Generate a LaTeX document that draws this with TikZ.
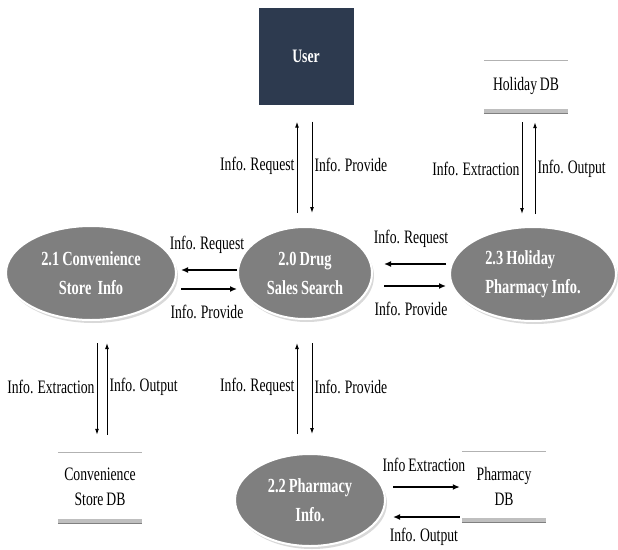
\documentclass[tikz,border=0pt]{standalone}
\usepackage{fontspec}
\setmainfont{Liberation Serif}[FakeStretch=0.72, WordSpace=0.85]
\usetikzlibrary{shapes.geometric,arrows.meta,shadows}
\definecolor{usernavy}{HTML}{2D3A4F}
\definecolor{procgray}{HTML}{7F7F7F}
\definecolor{bargray}{HTML}{BFBFBF}
\tikzstyle{process} = [ellipse, draw=white, line width=2pt, fill=procgray, text=white, font=\fontsize{20}{29}\selectfont\bfseries, align=center, inner sep=0pt, drop shadow={opacity=0.3, shadow xshift=2pt, shadow yshift=-3pt}]
\tikzstyle{entity} = [rectangle, fill=usernavy, text=white, font=\fontsize{19}{23}\selectfont\bfseries, minimum width=95pt, minimum height=97pt]
\tikzstyle{store} = [rectangle, minimum width=84pt, align=center, font=\fontsize{19}{25}\selectfont, inner sep=0pt]
\tikzstyle{storetop} = [draw=gray!60, line width=1.2pt]
\tikzstyle{storebar} = [draw=bargray, line width=5pt]
\tikzstyle{vflow} = [-{Latex[length=6pt,width=4pt]}, line width=1pt]
\tikzstyle{hflow} = [-{Latex[length=7pt,width=6pt]}, line width=1.8pt]
\tikzstyle{lbl} = [font=\fontsize{19}{21}\selectfont, inner sep=2pt]

\begin{document}
\begin{tikzpicture}[x=1pt, y=-1pt]
    \useasboundingbox (0,0) rectangle (618,549);

    % external entity and processes
    \node [entity] (user) at (306,56) {User};
    \node [process, minimum width=170pt, minimum height=94pt] (conv) at (91,273) {2.1 Convenience\\Store~ Info};
    \node [process, minimum width=134pt, minimum height=92pt] (drug) at (305,273) {2.0 Drug\\Sales Search};
    \node [process, minimum width=166pt, minimum height=94pt, align=left] (holi) at (533,274) {2.3 Holiday\\Pharmacy Info.};
    \node [process, minimum width=150pt, minimum height=92pt] (pharm) at (310,500) {2.2 Pharmacy\\Info.};

    % data stores
    \node [store, minimum height=50pt] (hdb) at (526,86) {Holiday DB};
    \node [store, minimum height=68pt] (cdb) at (100,487) {Convenience\\Store DB};
    \node [store, minimum height=68pt] (pdb) at (504,486) {Pharmacy\\DB};
    \foreach \s in {hdb,cdb,pdb} {
        \draw [storetop] (\s.north west) -- (\s.north east);
        \draw [storebar] (\s.south west) -- (\s.south east);
        \draw [draw=gray, line width=1pt] ([yshift=-2.5pt]\s.south west) -- ([yshift=-2.5pt]\s.south east);
    }

    % user <-> 2.0
    \draw [vflow, shorten <=13pt, shorten >=17pt] ([xshift=-8pt]drug.north) -- ([xshift=-8pt]drug.north |- user.south) node [lbl, midway, left] {Info. Request};
    \draw [vflow, shorten <=17pt, shorten >=13pt] ([xshift=7pt]drug.north |- user.south) -- ([xshift=7pt]drug.north) node [lbl, midway, right] {Info. Provide};

    % holiday db <-> 2.3
    \draw [vflow, shorten <=11pt, shorten >=12pt] ([xshift=-4pt]hdb.south) -- ([xshift=-4pt]hdb.south |- holi.north) node [lbl, midway, left] {Info. Extraction};
    \draw [vflow, shorten <=12pt, shorten >=11pt] ([xshift=9pt]hdb.south |- holi.north) -- ([xshift=9pt]hdb.south) node [lbl, midway, right] {Info. Output};

    % 2.0 <-> 2.1
    \draw [hflow, shorten >=4pt] ([yshift=3pt]drug.west) -- ([yshift=3pt]drug.west -| conv.east) node [lbl, midway, above=14pt] {Info. Request};
    \draw [hflow, shorten <=4pt] ([yshift=-16pt]drug.west -| conv.east) -- ([yshift=-16pt]drug.west) node [lbl, midway, below=13pt] {Info. Provide};

    % 2.3 <-> 2.0
    \draw [hflow, shorten <=3pt, shorten >=11pt] ([yshift=10pt]holi.west) -- ([yshift=10pt]holi.west -| drug.east) node [lbl, midway, above=14pt] {Info. Request};
    \draw [hflow, shorten <=11pt, shorten >=3pt] ([yshift=-12pt]holi.west -| drug.east) -- ([yshift=-12pt]holi.west) node [lbl, midway, below=13pt] {Info. Provide};

    % 2.1 <-> convenience store db
    \draw [vflow, shorten <=22pt, shorten >=18pt] ([xshift=-3pt]cdb.north |- conv.south) -- ([xshift=-3pt]cdb.north) node [lbl, midway, left] {Info. Extraction};
    \draw [vflow, shorten <=18pt, shorten >=22pt] ([xshift=7pt]cdb.north) -- ([xshift=7pt]cdb.north |- conv.south) node [lbl, midway, right] {Info. Output};

    % 2.0 <-> 2.2
    \draw [vflow, shorten <=19pt, shorten >=23pt] ([xshift=-8pt]drug.south |- pharm.north) -- ([xshift=-8pt]drug.south) node [lbl, midway, left] {Info. Request};
    \draw [vflow, shorten <=23pt, shorten >=19pt] ([xshift=7pt]drug.south) -- ([xshift=7pt]drug.south |- pharm.north) node [lbl, midway, right] {Info. Provide};

    % 2.2 <-> pharmacy db
    \draw [hflow, shorten <=7pt, shorten >=2pt] ([yshift=13pt]pharm.east) -- ([yshift=13pt]pharm.east -| pdb.west) node [lbl, midway, above=12pt] {Info Extraction};
    \draw [hflow, shorten <=2pt, shorten >=7pt] ([yshift=-17pt]pharm.east -| pdb.west) -- ([yshift=-17pt]pharm.east) node [lbl, midway, below=8pt] {Info. Output};
\end{tikzpicture}
\end{document}
